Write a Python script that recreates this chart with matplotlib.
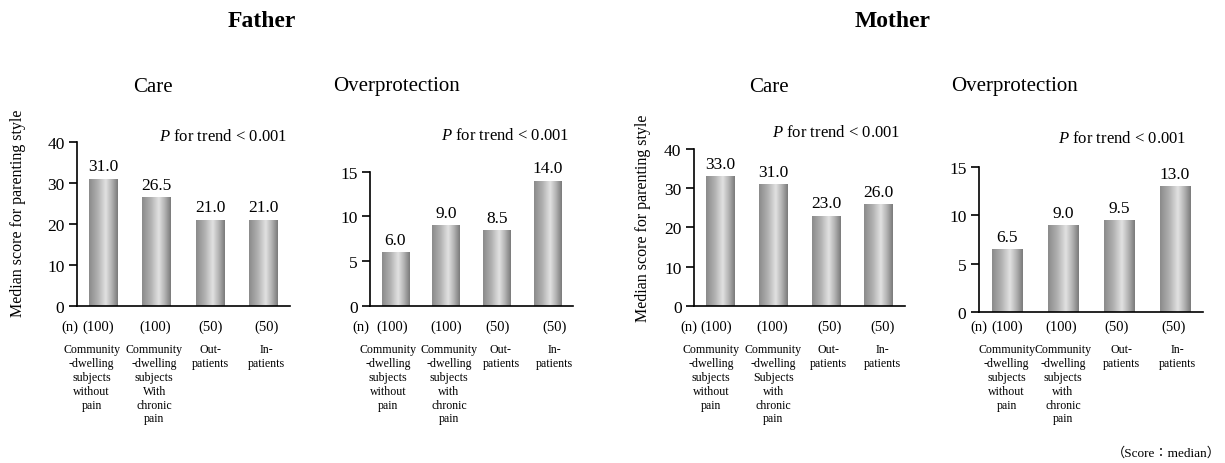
import numpy as np
import matplotlib
matplotlib.use("Agg")
import matplotlib.pyplot as plt
from matplotlib.colors import LinearSegmentedColormap
from matplotlib.transforms import blended_transform_factory

plt.rcParams["font.family"] = ["Liberation Serif", "Noto Sans CJK JP"]
plt.rcParams["mathtext.fontset"] = "custom"
plt.rcParams["mathtext.rm"] = "Liberation Serif"
plt.rcParams["mathtext.it"] = "Liberation Serif:italic"

# data
n_labels = ["(100)", "(100)", "(50)", "(50)"]
father_care = [31.0, 26.5, 21.0, 21.0]
father_overprot = [6.0, 9.0, 8.5, 14.0]
mother_care = [33.0, 31.0, 23.0, 26.0]
mother_overprot = [6.5, 9.0, 9.5, 13.0]

cats_f_care = ["Community\n-dwelling\nsubjects\nwithout\npain",
               "Community\n-dwelling\nsubjects\nWith\nchronic\npain",
               "Out-\npatients", "In-\npatients"]
cats_f_over = ["Community\n-dwelling\nsubjects\nwithout\npain",
               "Community\n-dwelling\nsubjects\nwith\nchronic\npain",
               "Out-\npatients", "In-\npatients"]
cats_m_care = ["Community\n-dwelling\nsubjects\nwithout\npain",
               "Community\n-dwelling\nSubjects\nwith\nchronic\npain",
               "Out-\npatients", "In-\npatients"]
cats_m_over = cats_f_over

W, H = 1225, 464
fig = plt.figure(figsize=(W / 100, H / 100), dpi=100)

cmap = LinearSegmentedColormap.from_list(
    "cyl", [(0, "#8a8a8a"), (0.3, "#b0b0b0"), (0.58, "#e2e2e2"),
            (0.8, "#b0b0b0"), (1, "#797979")])
grad = np.linspace(0, 1, 256).reshape(1, -1)


def px(x, y):
    # pixel position (top-left origin) -> figure fraction
    return x / W, 1 - y / H


# axes box in pixels (left, right, top, bottom), y max, y ticks,
# x pixel centres of the (n) row and of the group labels, right edge of "(n)"
layout = [
    ((77, 290, 142.7, 306.7), 40, [0, 10, 20, 30, 40],
     [98.3, 155, 210.3, 266.3], [91.7, 154.3, 210.7, 266.7], 78),
    ((370, 573, 172.7, 306.7), 15, [0, 5, 10, 15],
     [392.3, 445.7, 498, 555], [388, 449, 501, 554.7], 369),
    ((694, 905, 150.0, 306.7), 40, [0, 10, 20, 30, 40],
     [716.3, 771.7, 829.8, 882.5], [711, 773.3, 828, 882.5], 697),
    ((979, 1203, 167.7, 313.3), 15, [0, 5, 10, 15],
     [1007, 1061, 1117, 1174], [1006.7, 1063, 1121.3, 1177.7], 987),
]
series = [father_care, father_overprot, mother_care, mother_overprot]
cats_all = [cats_f_care, cats_f_over, cats_m_care, cats_m_over]

x = np.arange(4)
for (box, ymax, yticks, nx, cx, nr), vals, cats in zip(layout, series, cats_all):
    l, r, t, b = box
    ax = fig.add_axes([l / W, 1 - b / H, (r - l) / W, (b - t) / H])
    bars = ax.bar(x, vals, width=0.54, color="none", edgecolor="none")
    for bar, v in zip(bars, vals):
        x0 = bar.get_x()
        im = ax.imshow(grad, cmap=cmap, aspect="auto", interpolation="bicubic",
                       extent=(x0, x0 + bar.get_width(), 0, v), zorder=2)
        im.set_clip_path(bar)
        ax.annotate(f"{v:.1f}", (bar.get_x() + bar.get_width() / 2, v),
                    xytext=(0, 3), textcoords="offset points",
                    ha="center", va="bottom", fontsize=12.5)
    ax.set_xlim(-0.5, 3.5)
    ax.set_ylim(0, ymax)
    ax.set_yticks(yticks)
    ax.set_xticks([])
    for s in ["top", "right"]:
        ax.spines[s].set_visible(False)
    ax.spines["left"].set_linewidth(1.2)
    ax.spines["bottom"].set_linewidth(1.2)
    ax.tick_params(axis="y", direction="out", length=6, width=1.2,
                   pad=3, labelsize=12.5)

    fig.text(*px(nr, 327.3), "(n)", ha="right", va="center", fontsize=10.5)
    for i in range(4):
        fig.text(*px(nx[i], 327.3), n_labels[i], ha="center",
                 va="center", fontsize=10.5)
        fig.text(*px(cx[i], 344.5), cats[i], ha="center",
                 va="top", fontsize=8.6, linespacing=1.2)

# titles
fig.text(*px(262, 21.7), "Father", ha="center", va="center",
         fontsize=17, fontweight="bold")
fig.text(*px(892.7, 21.7), "Mother", ha="center", va="center",
         fontsize=17, fontweight="bold")
for tx, lab in [(152.7, "Care"), (396, "Overprotection"),
                (769, "Care"), (1014, "Overprotection")]:
    fig.text(*px(tx, 87), lab, ha="center", va="center", fontsize=15)

# P for trend
for rx, ty in [(287, 136.7), (569, 136), (900, 132.7), (1186, 139)]:
    fig.text(*px(rx, ty), r"$\mathit{P}$ for trend < 0.001", ha="right",
             va="center", fontsize=12)

fig.text(*px(18, 213.5), "Median score for parenting style", rotation=90,
         ha="center", va="center", fontsize=11.5)
fig.text(*px(643, 218), "Median score for parenting style", rotation=90,
         ha="center", va="center", fontsize=11.5)

fig.text(*px(1221, 453), "（Score：median）", ha="right", va="center",
         fontsize=9.5)

fig.savefig("out.png", dpi=100)
